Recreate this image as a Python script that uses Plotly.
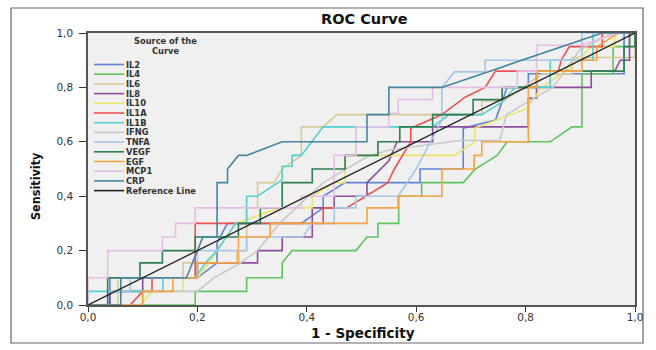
import plotly.graph_objects as go

# ---------------- data ----------------
names = ["IL2", "IL4", "IL6", "IL8", "IL10", "IL1A", "IL1B", "IFNG",
         "TNFA", "VEGF", "EGF", "MCP1", "CRP"]
colors = ["#6482d2", "#5fc35f", "#d8ca98", "#8e4c9e", "#ece36a", "#ee5050",
          "#55cfcf", "#c8c8c8", "#a6c6ea", "#2f7d52", "#f4a444", "#e6bde6",
          "#44869e"]

IL2_fpr = [0, 0.04, 0.04, 0.2, 0.236, 0.236, 0.255, 0.39, 0.43, 0.43, 0.47, 0.607, 0.607, 0.686, 0.686, 0.745, 0.766, 0.805, 0.805, 0.98, 0.98, 1]
IL2_tpr = [0, 0, 0.1, 0.1, 0.155, 0.23, 0.3, 0.3, 0.357, 0.4, 0.45, 0.45, 0.5, 0.5, 0.65, 0.68, 0.8, 0.8, 0.85, 0.85, 1, 1]

IL4_fpr = [0, 0.196, 0.196, 0.29, 0.29, 0.355, 0.355, 0.373, 0.49, 0.51, 0.53, 0.53, 0.568, 0.568, 0.61, 0.61, 0.686, 0.708, 0.748, 0.766, 0.845, 0.885, 0.903, 0.903, 0.96, 0.96, 0.99, 0.99, 1]
IL4_tpr = [0, 0, 0.05, 0.05, 0.1, 0.1, 0.155, 0.2, 0.2, 0.25, 0.25, 0.3, 0.3, 0.4, 0.4, 0.45, 0.45, 0.5, 0.55, 0.6, 0.6, 0.655, 0.655, 0.85, 0.85, 0.95, 0.95, 1, 1]

IL6_fpr = [0, 0.055, 0.055, 0.174, 0.174, 0.272, 0.272, 0.29, 0.29, 0.31, 0.31, 0.34, 0.355, 0.39, 0.39, 0.43, 0.455, 0.72, 0.72, 0.76, 0.83, 0.885, 0.885, 1, 1]
IL6_tpr = [0, 0, 0.1, 0.1, 0.155, 0.155, 0.2, 0.2, 0.357, 0.357, 0.45, 0.45, 0.5, 0.55, 0.655, 0.655, 0.7, 0.7, 0.75, 0.75, 0.85, 0.85, 0.91, 0.91, 1]

IL8_fpr = [0, 0.04, 0.04, 0.1, 0.1, 0.2, 0.2, 0.31, 0.31, 0.355, 0.355, 0.41, 0.41, 0.45, 0.45, 0.51, 0.51, 0.55, 0.565, 0.63, 0.63, 0.805, 0.805, 0.82, 0.82, 0.92, 0.92, 0.963, 0.973, 0.99, 0.99, 1]
IL8_tpr = [0, 0, 0.05, 0.05, 0.1, 0.1, 0.155, 0.155, 0.2, 0.2, 0.25, 0.25, 0.357, 0.357, 0.4, 0.4, 0.45, 0.53, 0.6, 0.6, 0.655, 0.655, 0.76, 0.76, 0.8, 0.8, 0.86, 0.86, 0.9, 0.9, 1, 1]

IL10_fpr = [0, 0.095, 0.117, 0.174, 0.174, 0.2, 0.218, 0.236, 0.27, 0.35, 0.41, 0.41, 0.45, 0.47, 0.47, 0.67, 0.707, 0.707, 0.8, 0.83, 0.88, 0.92, 0.963, 0.963, 1]
IL10_tpr = [0, 0, 0.05, 0.05, 0.1, 0.1, 0.147, 0.2, 0.3, 0.357, 0.357, 0.4, 0.45, 0.45, 0.55, 0.55, 0.6, 0.65, 0.72, 0.8, 0.87, 0.95, 0.95, 1, 1]

IL1A_fpr = [0, 0.077, 0.1, 0.117, 0.117, 0.196, 0.196, 0.43, 0.43, 0.473, 0.548, 0.56, 0.575, 0.59, 0.59, 0.647, 0.69, 0.726, 0.745, 0.86, 0.865, 0.88, 0.94, 0.94, 1]
IL1A_tpr = [0, 0, 0.05, 0.05, 0.1, 0.1, 0.3, 0.3, 0.357, 0.357, 0.45, 0.5, 0.55, 0.6, 0.65, 0.7, 0.765, 0.8, 0.86, 0.86, 0.9, 0.95, 0.95, 1, 1]

IL1B_fpr = [0, 0, 0.137, 0.137, 0.196, 0.215, 0.236, 0.27, 0.29, 0.29, 0.31, 0.34, 0.355, 0.355, 0.373, 0.373, 0.39, 0.43, 0.63, 0.66, 0.72, 0.76, 0.78, 0.845, 0.845, 0.923, 0.923, 1]
IL1B_tpr = [0, 0.05, 0.05, 0.1, 0.1, 0.155, 0.2, 0.3, 0.3, 0.4, 0.4, 0.44, 0.46, 0.51, 0.51, 0.55, 0.55, 0.655, 0.655, 0.7, 0.7, 0.75, 0.8, 0.8, 0.9, 0.9, 1, 1]

IFNG_fpr = [0, 0.1, 0.1, 0.2, 0.23, 0.275, 0.31, 0.35, 0.43, 0.51, 0.55, 0.61, 0.68, 0.753, 0.765, 0.82, 0.85, 0.9, 0.96, 1]
IFNG_tpr = [0, 0, 0.05, 0.05, 0.1, 0.15, 0.2, 0.3, 0.45, 0.545, 0.57, 0.585, 0.605, 0.605, 0.7, 0.765, 0.8, 0.94, 1, 1]

TNFA_fpr = [0, 0.036, 0.036, 0.077, 0.077, 0.2, 0.2, 0.29, 0.29, 0.393, 0.41, 0.45, 0.45, 0.49, 0.49, 0.567, 0.6, 0.647, 0.647, 0.67, 0.726, 0.726, 0.903, 0.903, 1]
TNFA_tpr = [0, 0, 0.05, 0.05, 0.1, 0.1, 0.2, 0.2, 0.25, 0.25, 0.3, 0.3, 0.357, 0.357, 0.4, 0.4, 0.5, 0.68, 0.8, 0.857, 0.857, 0.9, 0.9, 1, 1]

VEGF_fpr = [0, 0.036, 0.036, 0.095, 0.095, 0.136, 0.136, 0.196, 0.196, 0.275, 0.275, 0.315, 0.315, 0.355, 0.355, 0.41, 0.41, 0.47, 0.47, 0.53, 0.53, 0.57, 0.57, 0.63, 0.63, 0.704, 0.704, 0.757, 0.757, 0.82, 0.82, 0.98, 0.98, 1, 1]
VEGF_tpr = [0, 0, 0.1, 0.1, 0.155, 0.155, 0.2, 0.2, 0.25, 0.25, 0.3, 0.3, 0.357, 0.357, 0.45, 0.45, 0.5, 0.5, 0.55, 0.55, 0.6, 0.6, 0.655, 0.655, 0.7, 0.7, 0.755, 0.755, 0.8, 0.8, 0.86, 0.86, 0.95, 0.95, 1]

EGF_fpr = [0, 0.1, 0.1, 0.155, 0.155, 0.2, 0.2, 0.275, 0.275, 0.333, 0.333, 0.51, 0.51, 0.567, 0.567, 0.647, 0.647, 0.706, 0.706, 0.72, 0.72, 0.805, 0.805, 0.82, 0.82, 0.903, 0.903, 0.93, 0.93, 0.97, 1]
EGF_tpr = [0, 0, 0.05, 0.05, 0.1, 0.1, 0.155, 0.155, 0.25, 0.25, 0.3, 0.3, 0.357, 0.357, 0.4, 0.4, 0.5, 0.5, 0.55, 0.55, 0.6, 0.6, 0.8, 0.8, 0.86, 0.86, 0.9, 0.9, 0.95, 1, 1]

MCP1_fpr = [0, 0, 0.036, 0.036, 0.136, 0.136, 0.16, 0.16, 0.196, 0.196, 0.39, 0.39, 0.45, 0.45, 0.49, 0.49, 0.55, 0.55, 0.567, 0.567, 0.63, 0.63, 0.785, 0.785, 0.82, 0.82, 0.9, 0.97, 1]
MCP1_tpr = [0, 0.1, 0.1, 0.2, 0.2, 0.25, 0.25, 0.3, 0.3, 0.357, 0.357, 0.4, 0.4, 0.55, 0.55, 0.655, 0.655, 0.705, 0.705, 0.755, 0.755, 0.8, 0.8, 0.86, 0.86, 0.955, 0.955, 1, 1]

CRP_fpr = [0, 0.06, 0.06, 0.18, 0.2, 0.21, 0.236, 0.236, 0.255, 0.255, 0.275, 0.29, 0.355, 0.51, 0.51, 0.55, 0.55, 0.647, 0.94, 1]
CRP_tpr = [0, 0, 0.1, 0.1, 0.2, 0.25, 0.25, 0.45, 0.45, 0.5, 0.55, 0.55, 0.6, 0.6, 0.7, 0.7, 0.8, 0.8, 1, 1]

REF_fpr = [0, 1]
REF_tpr = [0, 1]

curves = {
    "IL2": (IL2_fpr, IL2_tpr), "IL4": (IL4_fpr, IL4_tpr), "IL6": (IL6_fpr, IL6_tpr),
    "IL8": (IL8_fpr, IL8_tpr), "IL10": (IL10_fpr, IL10_tpr), "IL1A": (IL1A_fpr, IL1A_tpr),
    "IL1B": (IL1B_fpr, IL1B_tpr), "IFNG": (IFNG_fpr, IFNG_tpr), "TNFA": (TNFA_fpr, TNFA_tpr),
    "VEGF": (VEGF_fpr, VEGF_tpr), "EGF": (EGF_fpr, EGF_tpr), "MCP1": (MCP1_fpr, MCP1_tpr),
    "CRP": (CRP_fpr, CRP_tpr),
}
tick_vals = [0, 0.2, 0.4, 0.6, 0.8, 1.0]

# ---------------- figure ----------------
W, H = 656, 350
L, R, T, B = 88, 21, 33, 45
pw, ph = W - L - R, H - T - B
FONT = "DejaVu Sans, Liberation Sans, Arial"

fig = go.Figure()
for name, col in zip(names, colors):
    fx, ty = curves[name]
    fig.add_trace(go.Scatter(x=fx, y=ty, mode="lines", name=name,
                             line=dict(color=col, width=1.6), showlegend=False))
fig.add_trace(go.Scatter(x=REF_fpr, y=REF_tpr, mode="lines", name="Reference Line",
                         line=dict(color="#222222", width=1.3), showlegend=False))


def px_x(px):
    return (px - L) / pw


def px_y(py):
    return (H - B - py) / ph


# compact SPSS-style legend drawn in paper coordinates
leg_names = names + ["Reference Line"]
leg_colors = colors + ["#222222"]
STEP = 9.7
Y0 = 64.5
LEG_SIZE = 8.3
shapes = []
annotations = []
annotations.append(dict(text="<b>Source of the</b>", x=px_x(165), y=px_y(41),
                        xref="paper", yref="paper", showarrow=False, xanchor="center",
                        yanchor="middle", font=dict(family=FONT, size=LEG_SIZE, color="#333")))
annotations.append(dict(text="<b>Curve</b>", x=px_x(165), y=px_y(50.5),
                        xref="paper", yref="paper", showarrow=False, xanchor="center",
                        yanchor="middle", font=dict(family=FONT, size=LEG_SIZE, color="#333")))
for i, (n, c) in enumerate(zip(leg_names, leg_colors)):
    yy = Y0 + i * STEP
    shapes.append(dict(type="line", xref="paper", yref="paper",
                       x0=px_x(94), x1=px_x(124), y0=px_y(yy), y1=px_y(yy),
                       line=dict(color=c, width=1.6)))
    annotations.append(dict(text="<b>" + n + "</b>", x=px_x(125), y=px_y(yy),
                            xref="paper", yref="paper", showarrow=False, borderpad=0,
                            xanchor="left", yanchor="middle",
                            font=dict(family=FONT, size=LEG_SIZE, color="#333")))

# outer frame
shapes.append(dict(type="rect", xref="paper", yref="paper",
                   x0=px_x(11), x1=px_x(643), y0=px_y(343), y1=px_y(8),
                   line=dict(color="#666666", width=1.2), layer="below"))

# titles
annotations.append(dict(text="<b>ROC Curve</b>", x=px_x(365), y=px_y(19), xref="paper",
                        yref="paper", showarrow=False, xanchor="center", yanchor="middle",
                        font=dict(family=FONT, size=14.5, color="#111")))
annotations.append(dict(text="<b>1 - Specificity</b>", x=px_x(363), y=px_y(333),
                        xref="paper", yref="paper", showarrow=False, xanchor="center",
                        yanchor="middle", borderpad=0,
                        font=dict(family=FONT, size=13.5, color="#111")))
annotations.append(dict(text="<b>Sensitivity</b>", x=px_x(35), y=px_y(186),
                        xref="paper", yref="paper", showarrow=False, textangle=-90,
                        xanchor="center", yanchor="middle",
                        font=dict(family="DejaVu Sans Condensed", size=12.5, color="#111")))

fig.update_layout(
    width=W, height=H,
    margin=dict(l=L, r=R, t=T, b=B),
    paper_bgcolor="white", plot_bgcolor="#f0f0f0",
    separators=",.",
    shapes=shapes, annotations=annotations,
    showlegend=False,
)
axis_common = dict(range=[0, 1], tickvals=tick_vals, tickformat=".1f",
                   showgrid=False, zeroline=False, showline=True, linecolor="#555555",
                   linewidth=1.5, mirror=True, ticks="outside",
                   tickcolor="#333333", tickwidth=1.2, automargin=False,
                   tickfont=dict(family=FONT, size=10.5, color="#333"))
fig.update_xaxes(**axis_common, ticklen=5, ticklabelstandoff=-3)
fig.update_yaxes(**axis_common, ticklen=7, ticklabelstandoff=4)

fig.write_html("out.html", config={"displayModeBar": False},
               post_script="document.body.style.margin='0px';")
